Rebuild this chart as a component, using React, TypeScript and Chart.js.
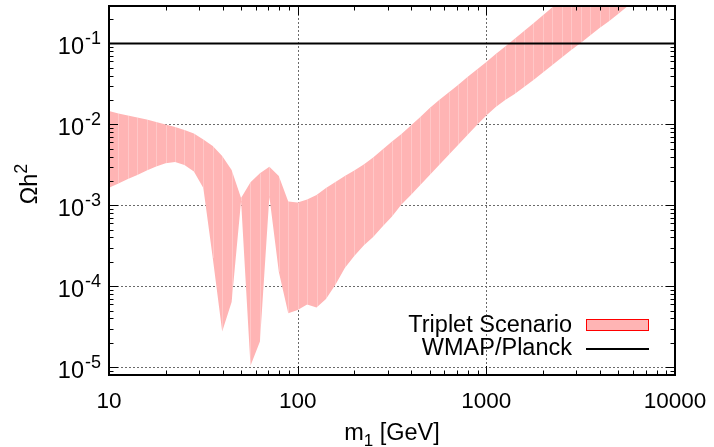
import React, { useEffect, useRef } from "react";
import { Chart, registerables } from "chart.js";

Chart.register(...registerables);

// m1 [GeV] sample points
const massGeV = [
  10, 11.22, 12.59, 14.13, 15.85, 17.78, 19.95, 22.39, 25.12, 28.18,
  31.62, 35.48, 39.81, 44.67, 50.12, 56.23, 63.1, 70.79, 79.43, 89.13,
  100, 112.2, 125.9, 141.3, 158.5, 177.8, 199.5, 223.9, 251.2, 281.8,
  316.2, 354.8, 398.1, 446.7, 501.2, 562.3, 631.0, 707.9, 794.3, 891.3,
  1000, 1122, 1259, 1413, 1585, 1778, 1995, 2239, 2512, 2818,
  3162, 3548, 3981, 4467, 5012, 5623, 6310, 7079,
];

// Upper edge of the Triplet Scenario band (Omega h^2)
const omegaUpper = [
  1.46e-2, 1.36e-2, 1.285e-2, 1.213e-2, 1.146e-2, 1.067e-2, 9.94e-3, 9.26e-3, 8.51e-3, 7.7e-3,
  6.49e-3, 5.4e-3, 4.06e-3, 2.73e-3, 1.23e-3, 1.92e-3, 2.48e-3, 3.0e-3, 2.3e-3, 1.11e-3,
  1.08e-3, 1.18e-3, 1.34e-3, 1.64e-3, 1.94e-3, 2.3e-3, 2.69e-3, 3.19e-3, 3.89e-3, 4.89e-3,
  6.14e-3, 7.59e-3, 9.67e-3, 1.23e-2, 1.59e-2, 2.0e-2, 2.47e-2, 3.06e-2, 3.84e-2, 4.75e-2,
  5.88e-2, 7.38e-2, 9.13e-2, 0.1146, 0.142, 0.178, 0.223, 0.28, 0.352, 0.437,
  0.54, 0.668, 0.827, 1.02, 1.27, 1.57, 1.94, 2.4,
];

// Lower edge of the Triplet Scenario band (Omega h^2)
const omegaLower = [
  1.65e-3, 1.86e-3, 2.11e-3, 2.37e-3, 2.69e-3, 3.01e-3, 3.3e-3, 3.43e-3, 3.15e-3, 2.61e-3,
  1.64e-3, 2.24e-4, 2.75e-5, 6.4e-5, 1.13e-3, 1.04e-5, 2.07e-5, 1.28e-3, 1.51e-4, 4.64e-5,
  5.1e-5, 5.96e-5, 5.47e-5, 6.97e-5, 1.04e-4, 1.68e-4, 2.37e-4, 3.19e-4, 4.06e-4, 5.47e-4,
  7.28e-4, 1.02e-3, 1.34e-3, 1.78e-3, 2.37e-3, 3.15e-3, 4.18e-3, 5.55e-3, 7.38e-3, 9.8e-3,
  1.285e-2, 1.64e-2, 2.0e-2, 2.37e-2, 2.89e-2, 3.52e-2, 4.36e-2, 5.4e-2, 6.68e-2, 8.27e-2,
  0.101, 0.125, 0.155, 0.188, 0.233, 0.289, 0.357, 0.443,
];

// WMAP/Planck relic density line
const wmapMass = [10, 10000];
const wmapOmega = [0.1, 0.1];

// Axis ticks
const xTickValues = [10, 100, 1000, 10000];
const xTickLabels = ["10", "100", "1000", "10000"];
const yTickValues = [1e-5, 1e-4, 1e-3, 1e-2, 1e-1];
const yTickExponents = ["-5", "-4", "-3", "-2", "-1"];

const X_MIN = 10;
const X_MAX = 10000;
const Y_MIN = 8e-6;
const Y_MAX = 0.29;

const FONT = '"Liberation Sans", Arial, Helvetica, sans-serif';
const BAND_COLOR = "rgb(255,180,180)";

function minorValues(min: number, max: number): number[] {
  const out: number[] = [];
  const lo = Math.floor(Math.log10(min));
  const hi = Math.ceil(Math.log10(max));
  for (let e = lo; e <= hi; e++) {
    for (let k = 2; k <= 9; k++) {
      const v = k * Math.pow(10, e);
      if (v > min * 1.0001 && v < max * 0.9999) out.push(v);
    }
  }
  return out;
}

const gnuplotPlugin = {
  id: "gnuplotFrame",
  beforeDatasetsDraw(chart: any) {
    const { ctx, chartArea: a, scales } = chart;
    const x = scales.x;
    const y = scales.y;
    ctx.save();
    ctx.strokeStyle = "#6a6a6a";
    ctx.lineWidth = 1;
    ctx.setLineDash([2, 2]);
    for (const v of xTickValues) {
      const px = Math.round(x.getPixelForValue(v)) + 0.5;
      if (px <= a.left + 2 || px >= a.right - 2) continue;
      ctx.beginPath();
      ctx.moveTo(px, a.top);
      ctx.lineTo(px, a.bottom);
      ctx.stroke();
    }
    for (const v of yTickValues) {
      const py = Math.round(y.getPixelForValue(v)) + 0.5;
      if (py <= a.top + 2 || py >= a.bottom - 2) continue;
      ctx.beginPath();
      ctx.moveTo(a.left, py);
      ctx.lineTo(a.right, py);
      ctx.stroke();
    }
    ctx.restore();
  },
  afterDatasetDraw(chart: any, args: any) {
    if (args.index !== 2) return;
    const { ctx, chartArea: a, scales } = chart;
    const x = scales.x;
    const y = scales.y;
    ctx.save();
    ctx.beginPath();
    ctx.rect(a.left, a.top, a.right - a.left, a.bottom - a.top);
    ctx.clip();
    ctx.strokeStyle = "rgba(255,255,255,0.25)";
    ctx.lineWidth = 1;
    for (let i = 1; i < massGeV.length - 1; i++) {
      const px = Math.round(x.getPixelForValue(massGeV[i])) + 0.5;
      const y1 = y.getPixelForValue(omegaUpper[i]);
      const y2 = y.getPixelForValue(omegaLower[i]);
      ctx.beginPath();
      ctx.moveTo(px, y1);
      ctx.lineTo(px, y2);
      ctx.stroke();
    }
    ctx.restore();
  },
  afterDraw(chart: any) {
    const { ctx, chartArea: a, scales } = chart;
    const x = scales.x;
    const y = scales.y;
    ctx.save();
    // tick marks (mirrored on all sides)
    ctx.strokeStyle = "#000";
    ctx.lineWidth = 1;
    const MAJ = 9;
    const MIN = 4.5;
    const xt = (v: number, len: number) => {
      const px = Math.round(x.getPixelForValue(v)) + 0.5;
      ctx.beginPath();
      ctx.moveTo(px, a.bottom);
      ctx.lineTo(px, a.bottom - len);
      ctx.moveTo(px, a.top);
      ctx.lineTo(px, a.top + len);
      ctx.stroke();
    };
    const yt = (v: number, len: number) => {
      const py = Math.round(y.getPixelForValue(v)) + 0.5;
      ctx.beginPath();
      ctx.moveTo(a.left, py);
      ctx.lineTo(a.left + len, py);
      ctx.moveTo(a.right, py);
      ctx.lineTo(a.right - len, py);
      ctx.stroke();
    };
    minorValues(X_MIN, X_MAX).forEach((v) => xt(v, MIN));
    xTickValues.forEach((v) => xt(v, MAJ));
    minorValues(Y_MIN, Y_MAX).forEach((v) => yt(v, MIN));
    yTickValues.forEach((v) => yt(v, MAJ));

    // border
    ctx.lineWidth = 2;
    ctx.strokeRect(a.left, a.top, a.right - a.left, a.bottom - a.top);

    // x tick labels
    ctx.fillStyle = "#000";
    ctx.font = `22.5px ${FONT}`;
    ctx.textAlign = "center";
    ctx.textBaseline = "alphabetic";
    xTickValues.forEach((v, i) => {
      ctx.fillText(xTickLabels[i], x.getPixelForValue(v), a.bottom + 33);
    });

    // y tick labels 10^n
    yTickValues.forEach((v, i) => {
      const py = y.getPixelForValue(v);
      ctx.textAlign = "right";
      ctx.font = `18px ${FONT}`;
      const ew = ctx.measureText(yTickExponents[i]).width;
      ctx.fillText(yTickExponents[i], a.left - 8, py + 1);
      ctx.font = `23.5px ${FONT}`;
      ctx.fillText("10", a.left - 9 - ew, py + 10.5);
    });

    // x axis title: m_1 [GeV]
    {
      ctx.textAlign = "left";
      ctx.font = `23.5px ${FONT}`;
      const w1 = ctx.measureText("m").width;
      const w3 = ctx.measureText(" [GeV]").width;
      ctx.font = `17px ${FONT}`;
      const w2 = ctx.measureText("1").width;
      const total = w1 + w2 + w3;
      const cx = (a.left + a.right) / 2;
      let sx = cx - total / 2;
      const base = 440;
      ctx.font = `23.5px ${FONT}`;
      ctx.fillText("m", sx, base);
      sx += w1;
      ctx.font = `17px ${FONT}`;
      ctx.fillText("1", sx, base + 6);
      sx += w2;
      ctx.font = `23.5px ${FONT}`;
      ctx.fillText(" [GeV]", sx, base);
    }

    // y axis title: Omega h^2
    {
      ctx.save();
      ctx.translate(37, 184);
      ctx.rotate(-Math.PI / 2);
      ctx.textAlign = "left";
      ctx.font = `23.5px ${FONT}`;
      const w1 = ctx.measureText("Ωh").width;
      ctx.font = `18px ${FONT}`;
      const w2 = ctx.measureText("2").width;
      let sx = -(w1 + w2) / 2;
      ctx.font = `23.5px ${FONT}`;
      ctx.fillText("Ωh", sx, 0);
      sx += w1;
      ctx.font = `18px ${FONT}`;
      ctx.fillText("2", sx, -10);
      ctx.restore();
    }

    // legend
    ctx.textAlign = "right";
    ctx.font = `23.5px ${FONT}`;
    ctx.fillText("Triplet Scenario", 572, 332);
    ctx.fillText("WMAP/Planck", 572, 355);
    ctx.fillStyle = BAND_COLOR;
    ctx.fillRect(586, 319, 63, 12);
    ctx.strokeStyle = "rgb(255,0,0)";
    ctx.lineWidth = 1;
    ctx.strokeRect(586.5, 319.5, 62, 11);
    ctx.strokeStyle = "#000";
    ctx.lineWidth = 2;
    ctx.beginPath();
    ctx.moveTo(586, 349);
    ctx.lineTo(649, 349);
    ctx.stroke();
    ctx.restore();
  },
};

export default function App() {
  const ref = useRef<HTMLCanvasElement>(null);
  useEffect(() => {
    document.body.style.margin = "0";
    const canvas = ref.current;
    if (!canvas) return;
    const chart = new Chart(canvas, {
      type: "line",
      data: {
        datasets: [
          {
            label: "WMAP/Planck",
            data: wmapMass.map((m, i) => ({ x: m, y: wmapOmega[i] })),
            borderColor: "#000",
            borderWidth: 2,
            pointRadius: 0,
            fill: false,
          },
          {
            label: "Triplet lower",
            data: massGeV.map((m, i) => ({ x: m, y: omegaLower[i] })),
            borderColor: "rgba(0,0,0,0)",
            borderWidth: 0,
            pointRadius: 0,
            fill: false,
          },
          {
            label: "Triplet Scenario",
            data: massGeV.map((m, i) => ({ x: m, y: omegaUpper[i] })),
            borderColor: "rgba(0,0,0,0)",
            borderWidth: 0,
            pointRadius: 0,
            backgroundColor: BAND_COLOR,
            fill: "-1",
          },
        ],
      },
      options: {
        responsive: false,
        animation: false,
        layout: { padding: { left: 109, right: 39, top: 6, bottom: 72 } },
        elements: { line: { tension: 0 } },
        plugins: { legend: { display: false }, tooltip: { enabled: false } },
        scales: {
          x: { type: "logarithmic", min: X_MIN, max: X_MAX, display: false },
          y: { type: "logarithmic", min: Y_MIN, max: Y_MAX, display: false },
        },
      },
      plugins: [gnuplotPlugin],
    } as any);
    return () => chart.destroy();
  }, []);
  return (
    <div style={{ position: "fixed", left: 0, top: 0, width: 714, height: 447 }}>
      <canvas ref={ref} width={714} height={447} style={{ width: 714, height: 447, display: "block" }} />
    </div>
  );
}
